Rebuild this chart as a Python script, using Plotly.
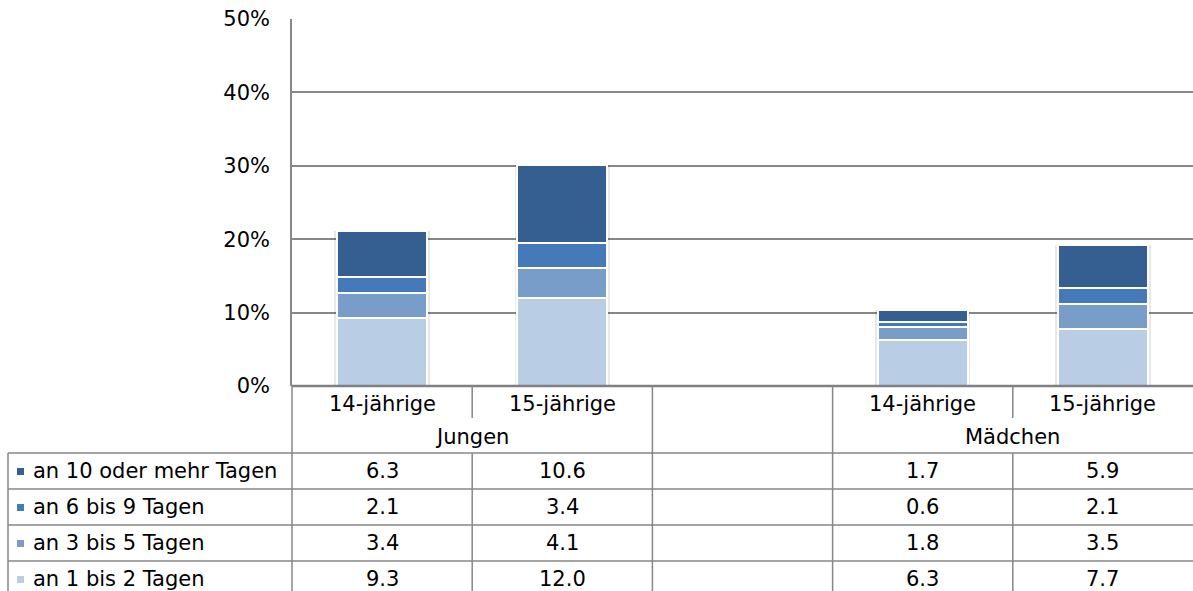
import plotly.graph_objects as go

# ---- data ----
categories = ["14-jährige", "15-jährige", "", "14-jährige", "15-jährige"]
groups = ["Jungen", "Mädchen"]
series_names = ["an 1 bis 2 Tagen", "an 3 bis 5 Tagen", "an 6 bis 9 Tagen", "an 10 oder mehr Tagen"]
tage_1_2 = [9.3, 12.0, None, 6.3, 7.7]
tage_3_5 = [3.4, 4.1, None, 1.8, 3.5]
tage_6_9 = [2.1, 3.4, None, 0.6, 2.1]
tage_10plus = [6.3, 10.6, None, 1.7, 5.9]
y_ticks = [0, 10, 20, 30, 40, 50]
y_tick_labels = ["0%", "10%", "20%", "30%", "40%", "50%"]

series_values = [tage_1_2, tage_3_5, tage_6_9, tage_10plus]
colors = ["#B9CDE5", "#789DC9", "#4579B9", "#365F91"]

W, H = 1193, 591
L, R, T, B = 292, 0, 19, 205
PW = W - L - R
PH = H - T - B
FONT = "DejaVu Sans, Arial, sans-serif"
FS = 21
GRID = "#878787"


def px_x(px):
    return (px - L) / PW


def px_y(py):
    return (H - B - py) / PH


n = len(categories)
xs = list(range(n))

totals = [None if v[0] is None else round(sum(v), 1)
          for v in zip(tage_1_2, tage_3_5, tage_6_9, tage_10plus)]

fig = go.Figure()
# soft shadow behind the stacks (base axes, drawn underneath)
fig.add_trace(go.Bar(x=xs, y=totals, width=0.53, xaxis="x", yaxis="y",
                     marker=dict(color="rgba(0,0,0,0.09)", line=dict(width=0)),
                     showlegend=False, hoverinfo="skip"))
for name, vals, col in zip(series_names, series_values, colors):
    fig.add_trace(go.Bar(
        x=xs, y=vals, name=name, width=0.5, xaxis="x2", yaxis="y2",
        marker=dict(color=col, line=dict(color="white", width=2)),
        showlegend=False,
    ))

fig.update_layout(
    width=W, height=H,
    margin=dict(l=L, r=R, t=T, b=B, pad=0),
    barmode="stack",
    plot_bgcolor="white", paper_bgcolor="white",
    font=dict(family=FONT, size=FS, color="black"),
    xaxis=dict(range=[-0.5, n - 0.5], showticklabels=False, showgrid=False,
               zeroline=False, showline=False, ticks=""),
    yaxis=dict(range=[0, 50], tickvals=y_ticks, ticktext=y_tick_labels,
               showgrid=True, gridcolor=GRID, gridwidth=1.5,
               zeroline=False, showline=True, linecolor=GRID, linewidth=1.5,
               ticks="", ticklabelstandoff=16,
               tickfont=dict(family=FONT, size=FS, color="black")),
    xaxis2=dict(range=[-0.5, n - 0.5], overlaying="x", visible=False),
    yaxis2=dict(range=[0, 50], overlaying="y", visible=False),
)

shapes = []
ann = []

def hline(y, x0, x1, w=1.5, c=GRID):
    shapes.append(dict(type="line", xref="paper", yref="paper",
                       x0=px_x(x0), x1=px_x(x1), y0=px_y(y), y1=px_y(y),
                       line=dict(color=c, width=w)))

def vline(x, y0, y1, w=1.5, c=GRID):
    shapes.append(dict(type="line", xref="paper", yref="paper",
                       x0=x, x1=x, y0=px_y(y0), y1=px_y(y1),
                       line=dict(color=c, width=w)))

# x axis line
hline(386, 292, W, w=2.5, c="#808080")

row_tops = [453, 489, 525, 561]
row_h = 36
for y in row_tops:
    hline(y, 8, W)
# vertical table lines (category boundaries)
bounds = [k / n for k in range(n + 1)]
for i, b in enumerate(bounds):
    if i in (0, 2, 3):
        vline(b, 386, H + 5)
    elif i in (1, 4):
        vline(b, 386, 418)
        vline(b, 453, H + 5)
vline(px_x(8), 453, H + 5)

# category labels
for i, c in enumerate(categories):
    if c:
        ann.append(dict(x=i, xref="x", y=px_y(404), yref="paper", text=c,
                        showarrow=False, xanchor="center", yanchor="middle"))
# group labels
ann.append(dict(x=0.5, xref="x", y=px_y(437), yref="paper", text=groups[0],
                showarrow=False, xanchor="center", yanchor="middle"))
ann.append(dict(x=3.5, xref="x", y=px_y(437), yref="paper", text=groups[1],
                showarrow=False, xanchor="center", yanchor="middle"))

# data rows (top: 10+ ... bottom: 1-2)
for r, idx in enumerate([3, 2, 1, 0]):
    yc = row_tops[r] + row_h / 2
    ann.append(dict(x=px_x(31), xref="paper", y=px_y(yc), yref="paper",
                    text=series_names[idx], showarrow=False,
                    xanchor="left", yanchor="middle"))
    shapes.append(dict(type="rect", xref="paper", yref="paper",
                       x0=px_x(17), x1=px_x(24), y0=px_y(yc - 3), y1=px_y(yc + 4),
                       fillcolor=colors[idx], line=dict(width=0)))
    for i, v in enumerate(series_values[idx]):
        if v is not None:
            ann.append(dict(x=i, xref="x", y=px_y(yc), yref="paper",
                            text=f"{v:.1f}", showarrow=False,
                            xanchor="center", yanchor="middle"))

fig.update_layout(shapes=shapes, annotations=ann)
fig.write_html("out.html", config={"displayModeBar": False},
               post_script="document.body.style.margin='0px';")
